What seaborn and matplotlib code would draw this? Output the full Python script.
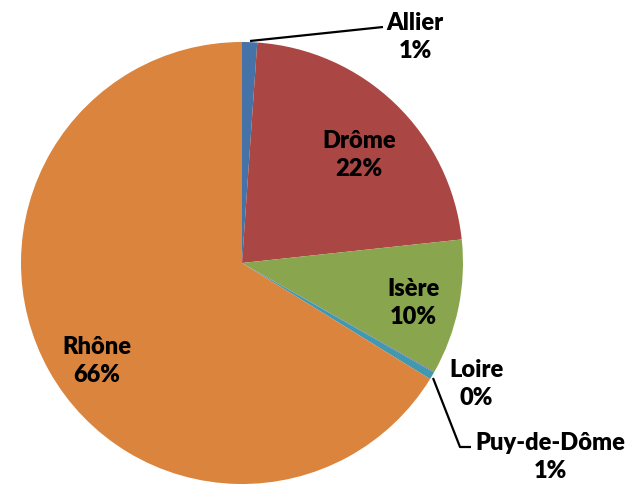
import matplotlib
matplotlib.use("Agg")
import matplotlib.pyplot as plt
import seaborn as sns

# Share of each département (percent)
departements = ["Allier", "Drôme", "Isère", "Loire", "Puy-de-Dôme", "Rhône"]
parts = [1.1, 22.2, 9.9, 0.05, 0.55, 66.2]
colors = ["#4572A7", "#AA4643", "#89A54E", "#71588F", "#4198AF", "#DB843D"]

sns.set_theme(style="white")
plt.rcParams["font.family"] = ["Lato", "DejaVu Sans"]

W, H = 628, 485
fig = plt.figure(figsize=(W / 100, H / 100), dpi=100)
ax = fig.add_axes([0, 0, 1, 1])


def px(x, y):
    """Convert top-left pixel coordinates to axes data coordinates."""
    return x, H - y


cx, cy = px(242, 264)
ax.pie(parts, colors=sns.color_palette(colors), startangle=90, counterclock=False,
       center=(cx, cy), radius=221, wedgeprops=dict(linewidth=0), frame=True)
ax.set_xlim(0, W)
ax.set_ylim(0, H)
ax.set_aspect("equal")
ax.axis("off")

# label anchor points (pixel layout)
label_pos = {
    "Allier": (415, 37),
    "Drôme": (359, 155),
    "Isère": (413, 303),
    "Loire": (476, 384),
    "Puy-de-Dôme": (550, 457),
    "Rhône": (97, 361),
}

for name, val in zip(departements, parts):
    x, y = px(*label_pos[name])
    ax.text(x, y, f"{name}\n{int(val + 0.5)}%", ha="center", va="center",
            fontsize=17, fontweight="heavy", color="black", linespacing=1.3)

# leader lines
lx, ly = zip(px(250, 42), px(383, 28))
ax.plot(lx, ly, color="black", lw=1.6, solid_capstyle="butt")
lx, ly = zip(px(433, 379), px(460, 448), px(471, 448))
ax.plot(lx, ly, color="black", lw=1.6, solid_capstyle="butt")

fig.savefig("out.png", dpi=100)
